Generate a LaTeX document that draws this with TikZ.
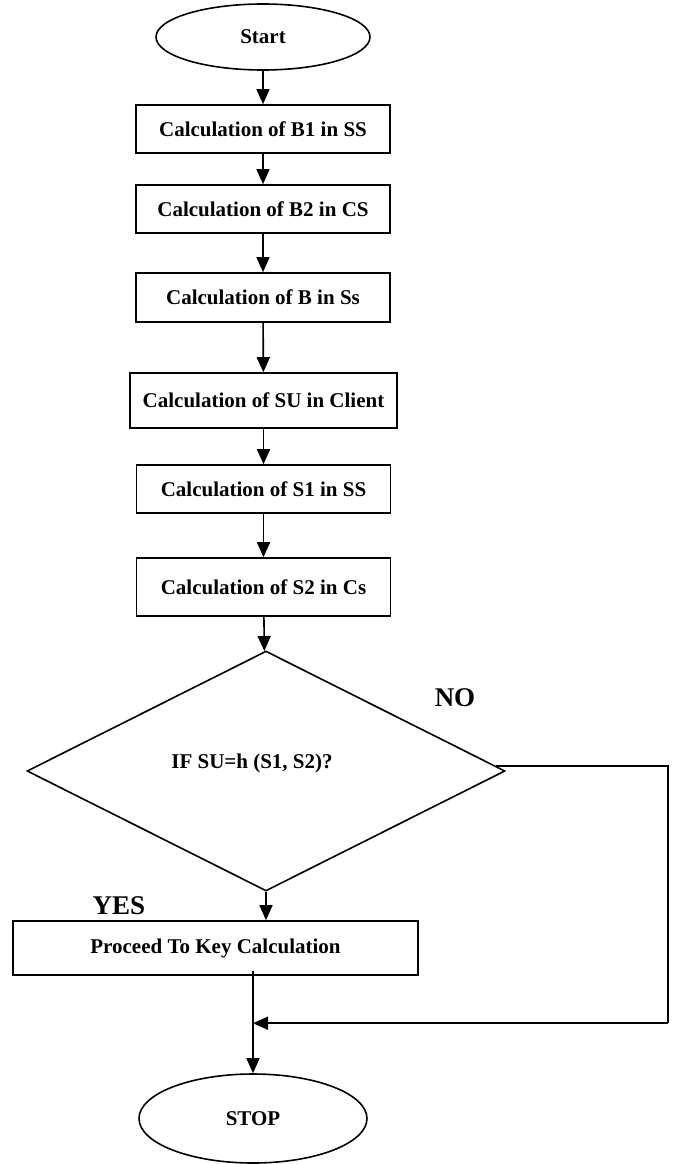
\documentclass[tikz,border=0pt]{standalone}
\usepackage{fontspec}
\setmainfont{Liberation Serif}
\usetikzlibrary{shapes.geometric,arrows.meta,calc}

\tikzset{
  flow/.style={line width=1.6pt},
  arr/.style={flow,-{Triangle[length=15pt,width=13pt]}},
  stepbox/.style={draw,line width=1.6pt,rectangle,inner sep=0pt,
    font=\fontsize{21}{25}\selectfont\bfseries},
  terminal/.style={draw,line width=1.6pt,ellipse,inner sep=0pt,
    font=\fontsize{21}{25}\selectfont\bfseries},
  decision/.style={draw,line width=1.6pt,diamond,inner sep=0pt,
    font=\fontsize{21}{25}\selectfont\bfseries},
  branch/.style={font=\fontsize{27}{30}\selectfont\bfseries,inner sep=0pt}
}

\begin{document}
\begin{tikzpicture}[x=1pt,y=-1pt]
  \useasboundingbox (0,0) rectangle (678,1164);

  % terminals and process steps
  \node[terminal,minimum width=214pt,minimum height=66pt] (start) at (263,37) {Start};
  \node[stepbox,minimum width=254pt,minimum height=48pt] (b1) at (263,129) {Calculation of B1 in SS};
  \node[stepbox,minimum width=254pt,minimum height=48pt] (b2) at (263,209) {Calculation of B2 in CS};
  \node[stepbox,minimum width=254pt,minimum height=49pt] (b3) at (263,297.5) {Calculation of B in Ss};
  \node[stepbox,minimum width=267pt,minimum height=55pt] (b4) at (263.5,400.5) {Calculation of SU in Client};
  \node[stepbox,minimum width=254pt,minimum height=48pt] (b5) at (263.5,489) {Calculation of S1 in SS};
  \node[stepbox,minimum width=254pt,minimum height=58pt] (b6) at (263.5,587) {Calculation of S2 in Cs};

  % decision
  \node[decision,minimum width=478pt,minimum height=240pt] (dec) at (266,771) {};
  \node[inner sep=0pt,font=\fontsize{21}{25}\selectfont\bfseries] (q) at (252,763) {IF SU=h (S1, S2)?};

  \node[stepbox,minimum width=405pt,minimum height=54pt] (b7) at (215.5,948) {Proceed To Key Calculation};
  \node[terminal,minimum width=228pt,minimum height=89pt] (stop) at (253,1118.5) {STOP};

  % branch labels
  \node[branch] (no) at (455,698) {NO};
  \node[branch] (yes) at (119,906) {YES};

  % connectors
  \draw[arr] (start) -- (b1);
  \draw[arr] (b1) -- (b2);
  \draw[arr] (b2) -- (b3);
  \draw[arr] (b3) -- (b4);
  \draw[arr] (b4) -- (b5);
  \draw[arr] (b5) -- (b6);
  \draw[arr] (b6) -- (dec);
  \draw[arr] (dec.south) -- (dec.south |- b7.north);

  \coordinate (join) at ($(stop.north)+(0,-50)$);
  \coordinate (noturn) at (668,766);
  \draw[arr] ($(stop.north |- b7.south)+(0,-5)$) -- (stop.north);
  \draw[flow] ($(dec.east)+(-10,-5)$) -- (noturn) -- (noturn |- join);
  \draw[arr] (noturn |- join) -- (join);
\end{tikzpicture}
\end{document}
